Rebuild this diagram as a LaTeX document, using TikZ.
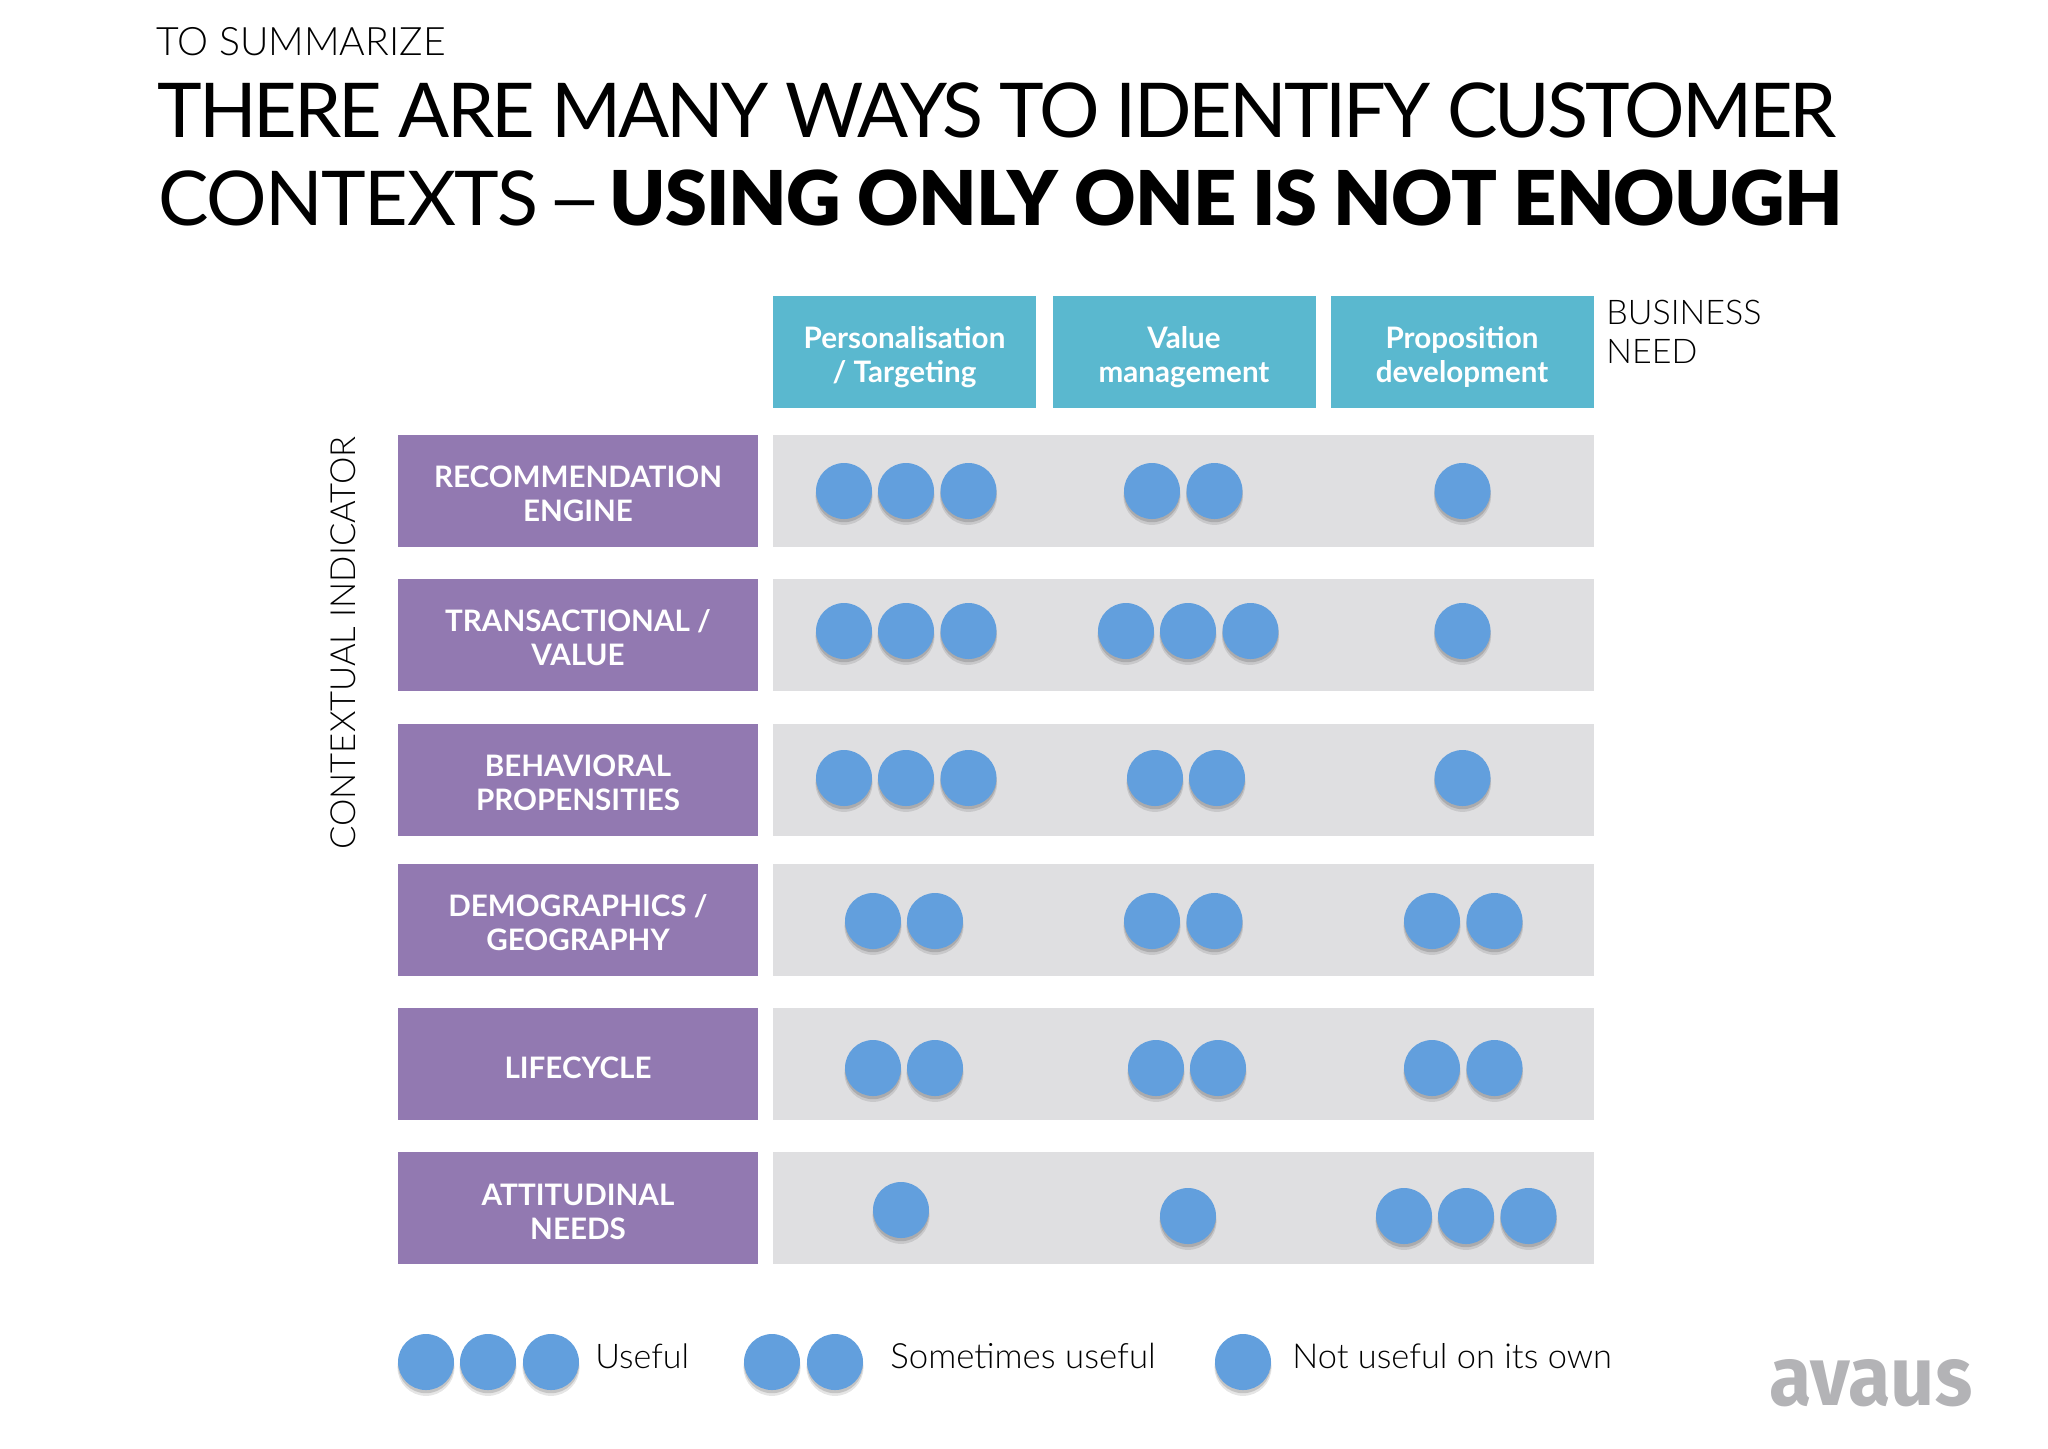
\documentclass[tikz,border=0pt]{standalone}
\usepackage{graphicx}
\usepackage{fontspec}
\usetikzlibrary{shadows}
\setmainfont{Lato}
\newfontfamily\titlefont[LetterSpace=-1.25]{Lato Black}
\newfontfamily\titlelight[LetterSpace=-4.0]{Lato}
\newfontfamily\titlewide[LetterSpace=-2.0]{Lato}
\newfontfamily\lightfont{Lato Light}
\newfontfamily\logofont{Fira Sans}
\definecolor{purp}{HTML}{9279B1}
\definecolor{teal2}{HTML}{5AB8CF}
\definecolor{greyrow}{HTML}{DFDFE1}
\definecolor{bluedot}{HTML}{629FDD}
\definecolor{logogrey}{HTML}{B3B3B6}
\tikzset{
  indicator/.style={fill=purp,inner sep=0pt,minimum width=180pt,minimum height=56pt,text=white,font=\fontsize{14.8}{17}\selectfont\bfseries},
  needbox/.style={fill=teal2,inner sep=0pt,minimum width=131.5pt,minimum height=56pt,text=white,font=\fontsize{14.8}{17}\selectfont\bfseries},
  rowband/.style={fill=greyrow,inner sep=0pt,minimum width=410.5pt,minimum height=56pt},
  ball/.style={circle,fill=bluedot,inner sep=0pt,minimum size=28pt,
    general shadow={fill=black,opacity=.10,shadow yshift=-2.6pt,shadow scale=1.02},
    general shadow={fill=black,opacity=.14,shadow yshift=-1.6pt,shadow scale=1.0}},
  plain/.style={inner sep=0pt,anchor=base west,text=black}
}
\newcommand{\balls}[3]{\foreach \px in {#2}{\node[ball] (#1-\px) at (\px,#3) {};}}
\newcommand{\lift}[2]{\raisebox{-#1pt}[0pt][0pt]{\begin{tabular}{@{}c@{}}#2\end{tabular}}}
\begin{document}
\begin{tikzpicture}[x=0.5pt,y=-0.5pt]
\useasboundingbox (0,0) rectangle (2048,1448);
\fill[white] (0,0) rectangle (2048,1448);
\node[plain,font=\fontsize{19.6}{21}\lightfont] (kicker) at (156,55.5) {TO SUMMARIZE};
\node[plain,font=\fontsize{37.8}{40}\titlelight] (title1) at (157,137.6) {THERE ARE MANY WAYS TO IDENTIFY CUSTOMER};
\node[plain,font=\fontsize{37.8}{40}\titlewide] (title2) at (158,225) {CONTEXTS};
\node[plain,font=\fontsize{37.8}{40}\titlewide] (dash) at (546,225) {\scalebox{1.3}[1]{–}};
\node[plain,font=\fontsize{37.8}{40}\titlefont] (title3) at (609,225) {USING ONLY ONE IS NOT ENOUGH};
\node[needbox] (n1) at (904.5,352) {\lift{6.7}{Personalisation\\/ Targeting}};
\node[needbox] (n2) at (1184,352) {\lift{6.7}{Value\\management}};
\node[needbox] (n3) at (1462,352) {\lift{6.7}{Proposition\\development}};
\node[plain,font=\fontsize{17}{19.5}\lightfont,align=left,anchor=north west] (biz) at (1606,299.5) {BUSINESS\\NEED};
\node[plain,font=\fontsize{17.3}{20}\lightfont,rotate=90] (ctx) at (355,850) {CONTEXTUAL INDICATOR};
\foreach \i/\y/\t in {1/490.5/{RECOMMENDATION\\ENGINE},2/634.5/{TRANSACTIONAL /\\VALUE},3/779.5/{BEHAVIORAL\\PROPENSITIES},4/919.5/{DEMOGRAPHICS /\\GEOGRAPHY},5/1064/{LIFECYCLE},6/1208/{ATTITUDINAL\\NEEDS}}{
  \node[indicator] (ind\i) at (578,\y) {\lift{7.4}{\t}};
  \node[rowband] (band\i) at (1183.5,\y) {};
}
\balls{r1}{844,906,968.5,1152,1214.5,1462.5}{491}
\balls{r2}{844,906,968.5,1126,1188,1250.5,1462.5}{631}
\balls{r3}{844,906,968.5,1155,1217,1462.5}{778}
\balls{r4}{873,935,1152,1214.5,1432,1494.5}{921}
\balls{r5}{873,935,1156,1218,1432,1494.5}{1068}
\balls{r6a}{901}{1210}
\balls{r6b}{1188,1404,1466,1528.5}{1216}
\balls{lg}{426,488,551,772,835,1243}{1362}
\node[plain,font=\fontsize{17}{20}\lightfont] (l1) at (595,1368.5) {Useful};
\node[plain,font=\fontsize{17.4}{20}\lightfont] (l2) at (890,1368.5) {Sometimes useful};
\node[plain,font=\fontsize{17.2}{20}\lightfont] (l3) at (1292,1368.5) {Not useful on its own};
\node[plain,text=logogrey,font=\fontsize{42}{44}\logofont\bfseries] (logo) at (1769,1405) {\scalebox{0.92}[1]{avaus}};
\end{tikzpicture}
\end{document}
